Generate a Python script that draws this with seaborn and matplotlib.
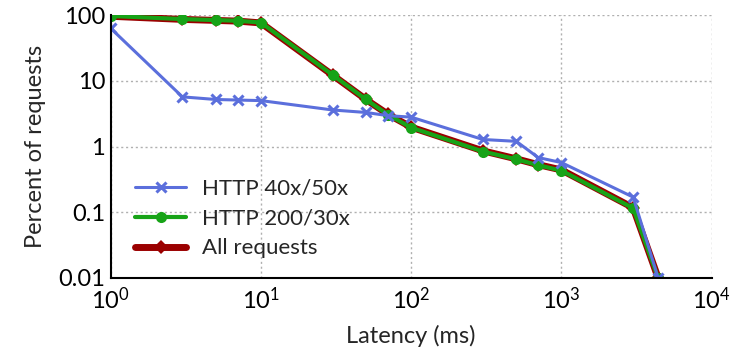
import numpy as np
import pandas as pd
import matplotlib
matplotlib.use("Agg")
import matplotlib.pyplot as plt
import seaborn as sns
from matplotlib.ticker import LogLocator, FixedLocator, FixedFormatter, NullFormatter

latency = [1, 3, 5, 7, 10, 30, 50, 70, 100, 300, 500, 700, 1000, 3000, 4400]
err_40x50x = [63, 5.7, 5.2, 5.1, 5.0, 3.6, 3.3, 2.95, 2.8, 1.28, 1.2, 0.68, 0.57, 0.17, 0.01]
ok_200_30x = [97, 87, 84, 82, 77, 12.3, 5.2, 3.05, 1.94, 0.84, 0.64, 0.52, 0.43, 0.115, 0.01]
all_reqs = [96, 86, 83, 81, 76, 12.2, 5.2, 3.1, 1.97, 0.86, 0.65, 0.53, 0.44, 0.117, 0.01]
series_names = ["HTTP 40x/50x", "HTTP 200/30x", "All requests"]
ytick_vals = [0.01, 0.1, 1, 10, 100]
ytick_labels = ["0.01", "0.1", "1", "10", "100"]
xtick_vals = [1, 10, 100, 1000, 10000]
xtick_labels = [r"$10^0$", r"$10^1$", r"$10^2$", r"$10^3$", r"$10^4$"]

df = pd.DataFrame({
    "Latency": latency * 3,
    "Percent": err_40x50x + ok_200_30x + all_reqs,
    "Series": [series_names[0]] * len(latency) + [series_names[1]] * len(latency) + [series_names[2]] * len(latency),
})

sns.set_style("white")
plt.rcParams["font.family"] = ["Lato", "DejaVu Sans"]
plt.rcParams["mathtext.fontset"] = "custom"
plt.rcParams["mathtext.rm"] = "Lato"
plt.rcParams["mathtext.it"] = "Lato"

fig = plt.figure(figsize=(7.33, 3.51), dpi=100)
ax = fig.add_axes([0.151, 0.208, 0.820, 0.749])

colors = {series_names[0]: "#5b6fdc", series_names[1]: "#17a317", series_names[2]: "#9b0000"}

# draw "All requests" first so it sits beneath
c = colors[series_names[2]]
sns.lineplot(data=df[df.Series == series_names[2]], x="Latency", y="Percent", ax=ax,
             color=c, linewidth=5, marker="D", markersize=7,
             markeredgewidth=0, markeredgecolor=c, label=series_names[2], legend=False)
c = colors[series_names[1]]
sns.lineplot(data=df[df.Series == series_names[1]], x="Latency", y="Percent", ax=ax,
             color=c, linewidth=3, marker="o", markersize=8,
             markeredgewidth=0, markeredgecolor=c, label=series_names[1], legend=False)
c = colors[series_names[0]]
sns.lineplot(data=df[df.Series == series_names[0]], x="Latency", y="Percent", ax=ax,
             color=c, linewidth=2.2, marker="x", markersize=7,
             markeredgewidth=2.2, markeredgecolor=c, label=series_names[0], legend=False)

ax.set_xscale("log")
ax.set_yscale("log")
ax.set_xlim(1, 10000)
ax.set_ylim(0.01, 100)

ax.xaxis.set_major_locator(FixedLocator(xtick_vals))
ax.xaxis.set_major_formatter(FixedFormatter(xtick_labels))
ax.xaxis.set_minor_locator(LogLocator(base=10, subs=np.arange(2, 10)))
ax.xaxis.set_minor_formatter(NullFormatter())
ax.yaxis.set_major_locator(FixedLocator(ytick_vals))
ax.yaxis.set_major_formatter(FixedFormatter(ytick_labels))
ax.yaxis.set_minor_locator(LogLocator(base=10, subs=np.arange(2, 10)))
ax.yaxis.set_minor_formatter(NullFormatter())

ax.tick_params(axis="both", which="major", direction="in", length=8, width=1.2, labelsize=17, pad=6, colors="black")
ax.tick_params(axis="both", which="minor", direction="in", length=5, width=1.0, colors="black")
ax.tick_params(axis="y", which="major", pad=4)

for s in ["top", "right"]:
    ax.spines[s].set_visible(False)
for s in ["left", "bottom"]:
    ax.spines[s].set_color("black")
    ax.spines[s].set_linewidth(1.5)

ax.grid(True, which="major", linestyle=(0, (1.5, 2)), color="#b0b0b0", linewidth=1)
ax.set_axisbelow(True)

ax.set_xlabel("Latency (ms)", fontsize=17, labelpad=9)
ax.set_ylabel("Percent of requests", fontsize=17, labelpad=9)

handles, labels = ax.get_legend_handles_labels()
order = [labels.index(n) for n in series_names]
ax.legend([handles[i] for i in order], [labels[i] for i in order],
          loc="lower left", bbox_to_anchor=(0.015, 0.015), frameon=False,
          fontsize=16, handlelength=2.3, labelspacing=0.45, borderpad=0.2, handletextpad=0.7)

for t in ax.get_xticklabels() + ax.get_yticklabels():
    t.set_clip_on(False)

fig.savefig("out.png", dpi=100)
